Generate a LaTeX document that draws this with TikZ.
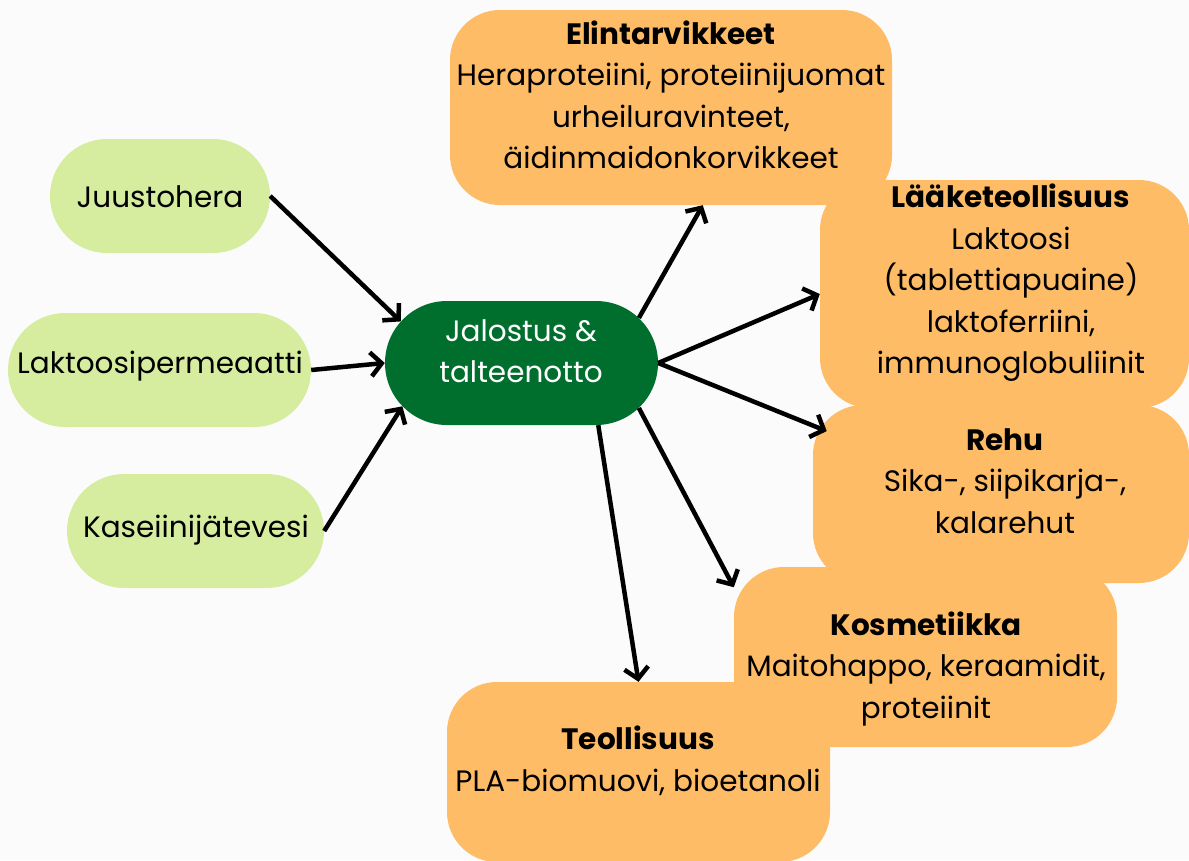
\documentclass[tikz,border=0pt]{standalone}
\usepackage{fontspec}
\setmainfont{Poppins}
\usetikzlibrary{arrows.meta,shapes.misc}
\definecolor{bgc}{HTML}{FBFBFB}
\definecolor{lgreen}{HTML}{D6EDA0}
\definecolor{dgreen}{HTML}{006F2E}
\definecolor{orng}{HTML}{FFBC66}
\tikzset{
  srcpill/.style={rounded rectangle, fill=lgreen, draw=none, inner sep=0pt},
  hubpill/.style={rounded rectangle, fill=dgreen, draw=none, inner sep=0pt},
  outbox/.style={rectangle, rounded corners=50pt, fill=orng, draw=none, inner sep=0pt},
  txt/.style={inner sep=0pt, align=center, font=\fontsize{29.5}{41.5}\selectfont},
  arr/.style={line width=4.5pt, -{Straight Barb[length=11pt,width=24pt,line width=4.5pt]}}
}
\begin{document}
\begin{tikzpicture}[x=1pt,y=-1pt]
\useasboundingbox[fill=bgc] (0,0) rectangle (1189,860);
% output boxes
\node[outbox, minimum width=369pt, minimum height=228pt] (lae) at (1004.5,294) {};
\node[outbox, minimum width=442pt, minimum height=195pt] (elin) at (671,107.5) {};
\node[outbox, minimum width=376pt, minimum height=178pt] (rehu) at (1001,494) {};
\node[outbox, minimum width=383pt, minimum height=180pt] (kos) at (925.5,657) {};
\node[outbox, minimum width=383pt, minimum height=180pt] (teo) at (638.5,772) {};
% texts of output boxes
\node[txt] (elinT) at (671,95) {\textbf{Elintarvikkeet}\\Heraproteiini, proteiinijuomat\\urheiluravinteet,\\äidinmaidonkorvikkeet};
\node[txt] (laeT) at (1011,283) {\textbf{Lääketeollisuus}\\Laktoosi\\(tablettiapuaine)\\laktoferriini,\\immunoglobuliinit};
\node[txt] (rehuT) at (1005,481) {\textbf{Rehu}\\Sika-, siipikarja-,\\kalarehut};
\node[txt] (kosT) at (926,669) {\textbf{Kosmetiikka}\\Maitohappo, keraamidit,\\proteiinit};
\node[txt] (teoT) at (638,761) {\textbf{Teollisuus}\\PLA-biomuovi, bioetanoli};
% sources
\node[srcpill, minimum width=220pt, minimum height=114pt] (juu) at (160,196) {};
\node[srcpill, minimum width=303pt, minimum height=114pt] (lak) at (159.5,370) {};
\node[srcpill, minimum width=257pt, minimum height=114pt] (kas) at (195.5,531) {};
\node[txt] (juuT) at (160,197) {Juustohera};
\node[txt] (lakT) at (160,366) {Laktoosipermeaatti};
\node[txt] (kasT) at (196,530) {Kaseiinijätevesi};
% hub
\node[hubpill, minimum width=273pt, minimum height=124pt] (jal) at (521.5,363) {};
\node[txt, text=white] (jalT) at (521,351) {Jalostus \&\\talteenotto};
% arrows in
\draw[arr] (juu.east) -- (jal.161);
\draw[arr] (lak.east) -- (jal.west);
\draw[arr] (kas.east) -- (jal.200);
% arrows out
\draw[arr] (jal.21) -- (elin.-72);
\draw[arr] (jal.east) -- (lae.west);
\draw[arr, shorten >=-15pt] (jal.east) -- (rehu.160);
\draw[arr] (jal.-21) -- (kos.160.4);
\draw[arr] (jal.-39) -- (teo.north);
\end{tikzpicture}
\end{document}
